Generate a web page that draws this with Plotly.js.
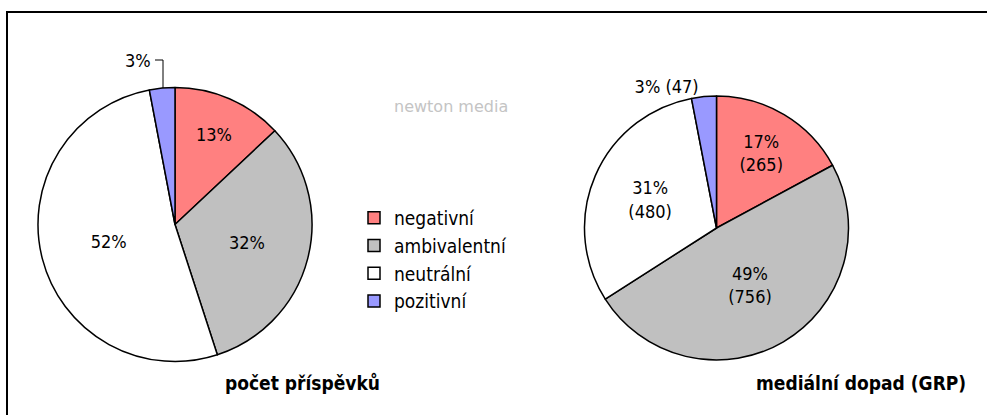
<!DOCTYPE html>
<html>
<head>
<meta charset="utf-8">
<script src="https://cdn.plot.ly/plotly-3.0.1.min.js"></script>
<style>html,body{margin:0;padding:0;background:#fff;}#chart{width:987px;height:415px;}</style>
</head>
<body>
<div id="chart"></div>
<script>
const categories = ['negativní', 'ambivalentní', 'neutrální', 'pozitivní'];
const colors = ['#FF8080', '#C0C0C0', '#FFFFFF', '#9999FF'];
const countPercent = [13, 32, 52, 3];
const grpValues = [265, 756, 480, 47];
const chartTitles = ['počet příspěvků', 'mediální dopad (GRP)'];
const watermark = 'newton media';

const FONT = 'DejaVu Sans Condensed, DejaVu Sans, sans-serif';
const sliceLine = {color: '#000', width: 1.5};
const W = 987, H = 415;
const px = v => v / W;
const py = v => 1 - v / H;

const pieLeft = {
  type: 'pie',
  labels: categories,
  values: countPercent,
  sort: false,
  direction: 'clockwise',
  rotation: 0,
  marker: {colors: colors, line: sliceLine},
  texttemplate: '%{percent:.0%}',
  textposition: ['inside', 'inside', 'inside', 'none'],
  insidetextorientation: 'horizontal',
  textfont: {family: FONT, size: 18, color: '#000'},
  domain: {x: [px(38), px(312)], y: [py(361.5), py(87.5)]},
  hoverinfo: 'label+percent',
  showlegend: true
};

const pieRight = {
  type: 'pie',
  labels: categories,
  values: grpValues,
  sort: false,
  direction: 'clockwise',
  rotation: 0,
  marker: {colors: colors, line: sliceLine},
  texttemplate: ['%{percent:.0%}<br>(%{value})', '%{percent:.0%}<br>(%{value})', '%{percent:.0%}<br>(%{value})', '%{percent:.0%} (%{value})'],
  textposition: ['inside', 'inside', 'inside', 'outside'],
  insidetextorientation: 'horizontal',
  textfont: {family: FONT, size: 18, color: '#000'},
  domain: {x: [px(584.5), px(848.5)], y: [py(360), py(96)]},
  hoverinfo: 'label+value+percent',
  showlegend: false
};

const layout = {
  width: W,
  height: H,
  margin: {l: 0, r: 0, t: 0, b: 0},
  paper_bgcolor: '#fff',
  font: {family: FONT, size: 18, color: '#000'},
  legend: {
    x: px(354), y: py(199), xanchor: 'left', yanchor: 'top',
    bgcolor: 'rgba(0,0,0,0)',
    font: {family: FONT, size: 19, color: '#000'},
    tracegroupgap: 0
  },
  annotations: [
    {text: '<b>' + chartTitles[0] + '</b>', xref: 'paper', yref: 'paper', x: px(302), y: py(383),
     xanchor: 'center', yanchor: 'middle', showarrow: false, font: {family: FONT, size: 19, color: '#000'}},
    {text: '<b>' + chartTitles[1] + '</b>', xref: 'paper', yref: 'paper', x: px(861), y: py(383),
     xanchor: 'center', yanchor: 'middle', showarrow: false, font: {family: FONT, size: 19, color: '#000'}},
    {text: watermark, xref: 'paper', yref: 'paper', x: px(451), y: py(106),
     xanchor: 'center', yanchor: 'middle', showarrow: false,
     font: {family: 'DejaVu Sans ExtraLight, DejaVu Sans, sans-serif', size: 16, color: '#C4C4C4'}},
    {text: Math.round(countPercent[3]) + '%', xref: 'paper', yref: 'paper', x: px(153), y: py(61),
     xanchor: 'right', yanchor: 'middle', showarrow: false, font: {family: FONT, size: 18, color: '#000'}}
  ],
  shapes: [
    {type: 'rect', xref: 'paper', yref: 'paper', x0: px(7), x1: 1.2, y0: -0.2, y1: py(12),
     line: {color: '#000', width: 2}, fillcolor: 'rgba(0,0,0,0)', layer: 'below'},
    {type: 'path', xref: 'paper', yref: 'paper',
     path: 'M ' + px(155) + ',' + py(60) + ' L ' + px(163) + ',' + py(60) + ' L ' + px(163) + ',' + py(88),
     line: {color: '#000', width: 1}}
  ]
};

Plotly.newPlot('chart', [pieLeft, pieRight], layout, {displayModeBar: false, staticPlot: true});
</script>
</body>
</html>
